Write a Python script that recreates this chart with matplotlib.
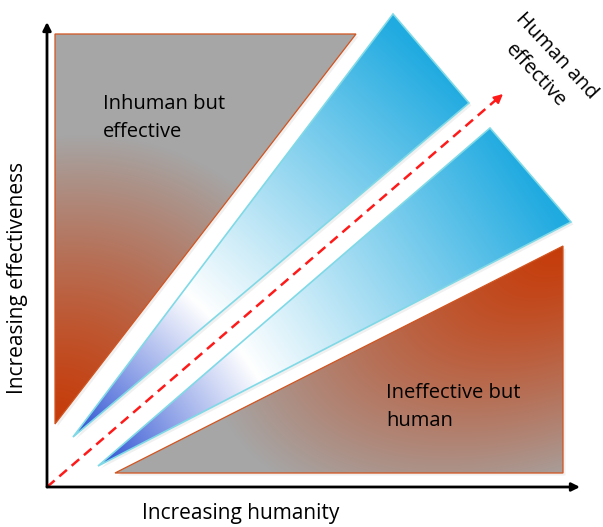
import numpy as np
import matplotlib.pyplot as plt
from matplotlib.patches import Polygon
from matplotlib.colors import to_rgb

# diagram geometry, in picture pixels (x right, y down)
W, H = 603, 527
origin = (47, 487)
x_axis_end = (580, 487)
y_axis_end = (47, 22)
diag_end = (503, 94)

inhuman_tri = [(55, 34), (356, 34), (55, 424)]
upper_wedge = [(73, 437), (393, 14), (469, 103)]
lower_wedge = [(98, 466), (490, 128), (571, 222)]
ineffective_tri = [(115, 473), (563, 246), (563, 473)]

labels = ["Inhuman but\neffective", "Ineffective but\nhuman", "Human and\neffective"]
x_label = "Increasing humanity"
y_label = "Increasing effectiveness"

gray = np.array(to_rgb("#a6a6a6"))
orange = np.array(to_rgb("#c63c0a"))
dark_blue = np.array(to_rgb("#2a4fd2"))
white = np.array([1.0, 1.0, 1.0])
light_blue = np.array(to_rgb("#1faae0"))

plt.rcParams['font.family'] = ['Open Sans', 'DejaVu Sans']

fig = plt.figure(figsize=(W / 100, H / 100), dpi=100)
ax = fig.add_axes([0, 0, 1, 1])
ax.set_xlim(0, W)
ax.set_ylim(H, 0)
ax.axis('off')

yy, xx = np.mgrid[0:H, 0:W] + 0.5


def elliptic(center, toward, r_along, r_across, power=1.3):
    # orange at center, fading to gray; ellipse stretched toward `toward`
    u = np.array(toward, float) - np.array(center, float)
    u /= np.hypot(*u)
    dx, dy = xx - center[0], yy - center[1]
    a = (dx * u[0] + dy * u[1]) / r_along
    c = (-dx * u[1] + dy * u[0]) / r_across
    t = np.clip(np.hypot(a, c), 0, 1) ** power
    return orange[None, None, :] * (1 - t[..., None]) + gray[None, None, :] * t[..., None]


def wedge_grad(verts, white_at=0.35):
    tip = np.array(verts[0])
    far = (np.array(verts[1]) + np.array(verts[2])) / 2
    v = far - tip
    t = ((xx - tip[0]) * v[0] + (yy - tip[1]) * v[1]) / (v @ v)
    t = np.clip(t, 0, 1)[..., None]
    a = np.clip(t / white_at, 0, 1)
    b = np.clip((t - white_at) / (1 - white_at), 0, 1)
    lo = dark_blue * (1 - a) + white * a
    hi = white * (1 - b) + light_blue * b
    return np.where(t < white_at, lo, hi)


def fill(verts, img, edge, lw):
    # faint shadow
    sh = Polygon([(x + 2.5, y + 2.5) for x, y in verts], closed=True,
                 facecolor='#000000', alpha=0.06, edgecolor='none')
    ax.add_patch(sh)
    p = Polygon(verts, closed=True, facecolor='none', edgecolor='none')
    ax.add_patch(p)
    im = ax.imshow(img, extent=(0, W, H, 0), origin='upper',
                   interpolation='bilinear', zorder=2)
    im.set_clip_path(p)
    ax.add_patch(Polygon(verts, closed=True, facecolor='none',
                         edgecolor=edge, lw=lw, zorder=3))


fill(inhuman_tri, elliptic(inhuman_tri[2], inhuman_tri[1], 300, 270), '#d2541f', 0.9)
fill(ineffective_tri, elliptic(ineffective_tri[1], ineffective_tri[0], 380, 225),
     '#d2541f', 0.9)
fill(upper_wedge, wedge_grad(upper_wedge), '#7fd9e6', 1.2)
fill(lower_wedge, wedge_grad(lower_wedge), '#7fd9e6', 1.2)

# axes arrows
for end in (x_axis_end, y_axis_end):
    ax.annotate('', xy=end, xytext=origin, zorder=5,
                arrowprops=dict(arrowstyle='-|>', color='black', lw=2,
                                mutation_scale=12, shrinkA=0, shrinkB=0))

# red dashed diagonal
ax.plot([origin[0], diag_end[0] - 6], [origin[1], diag_end[1] + 5],
        color='#ff1a1a', lw=1.8, ls=(0, (4, 2.5)), zorder=4)
ax.annotate('', xy=diag_end, xytext=(diag_end[0] - 8, diag_end[1] + 7), zorder=5,
            arrowprops=dict(arrowstyle='-|>', color='#ff1a1a', lw=1.5,
                            mutation_scale=13, shrinkA=0, shrinkB=0))

ax.text(103, 118, labels[0], fontsize=14.5, va='center', ha='left',
        linespacing=1.55, zorder=6)
ax.text(386, 407, labels[1], fontsize=14.5, va='center', ha='left',
        linespacing=1.55, zorder=6)
ax.text(546, 66, labels[2], fontsize=14.5, va='center', ha='center',
        rotation=-47, rotation_mode='anchor', linespacing=1.55, zorder=6)

ax.text(241, 514, x_label, fontsize=15, ha='center', va='center')
ax.text(18, 278, y_label, fontsize=15, ha='center', va='center', rotation=90)

fig.savefig('out.png', dpi=100)
